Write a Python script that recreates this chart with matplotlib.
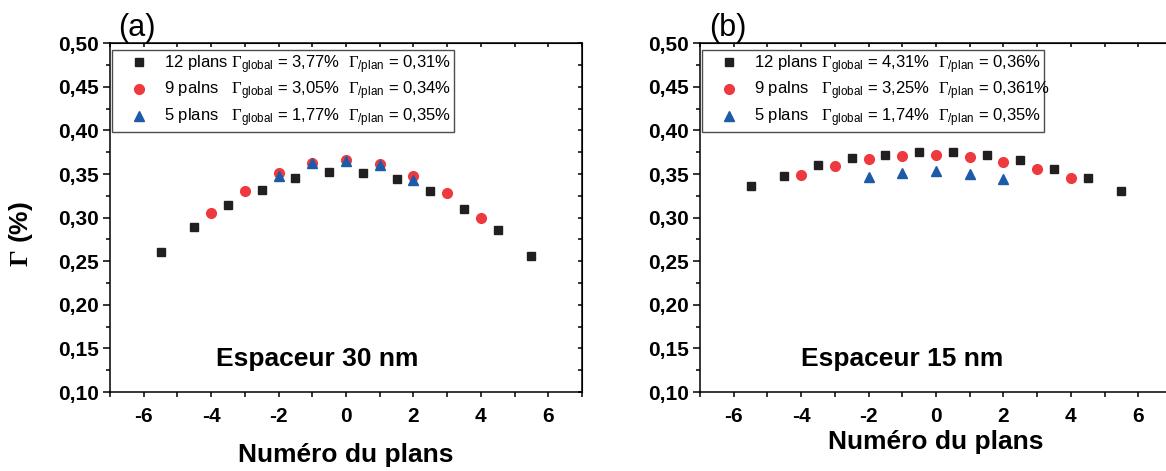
import matplotlib.pyplot as plt
import numpy as np
from matplotlib.ticker import MultipleLocator

plt.rcParams['font.family'] = 'Liberation Sans'
plt.rcParams['mathtext.fontset'] = 'custom'
plt.rcParams['mathtext.rm'] = 'Liberation Serif'
plt.rcParams['mathtext.it'] = 'Liberation Serif:italic'
plt.rcParams['mathtext.bf'] = 'Liberation Serif:bold'
plt.rcParams['mathtext.sf'] = 'Liberation Sans'

# plane numbers
x12 = [-5.5, -4.5, -3.5, -2.5, -1.5, -0.5, 0.5, 1.5, 2.5, 3.5, 4.5, 5.5]
x9 = [-4, -3, -2, -1, 0, 1, 2, 3, 4]
x5 = [-2, -1, 0, 1, 2]

# (a) spacer 30 nm
a12 = [0.261, 0.289, 0.314, 0.332, 0.345, 0.352, 0.351, 0.344, 0.330, 0.310, 0.286, 0.256]
a9 = [0.305, 0.331, 0.351, 0.363, 0.366, 0.362, 0.348, 0.328, 0.300]
a5 = [0.348, 0.363, 0.365, 0.360, 0.343]
# (b) spacer 15 nm
b12 = [0.336, 0.348, 0.360, 0.368, 0.372, 0.375, 0.375, 0.372, 0.366, 0.356, 0.345, 0.331]
b9 = [0.349, 0.359, 0.367, 0.371, 0.372, 0.370, 0.364, 0.356, 0.345]
b5 = [0.347, 0.351, 0.353, 0.350, 0.344]

labels_a = ['12 plans $\\Gamma_{\\mathsf{global}}$ = 3,77%  $\\Gamma_{\\mathsf{/plan}}$ = 0,31%',
            '9 palns   $\\Gamma_{\\mathsf{global}}$ = 3,05%  $\\Gamma_{\\mathsf{/plan}}$ = 0,34%',
            '5 plans   $\\Gamma_{\\mathsf{global}}$ = 1,77%  $\\Gamma_{\\mathsf{/plan}}$ = 0,35%']
labels_b = ['12 plans $\\Gamma_{\\mathsf{global}}$ = 4,31%  $\\Gamma_{\\mathsf{/plan}}$ = 0,36%',
            '9 palns   $\\Gamma_{\\mathsf{global}}$ = 3,25%  $\\Gamma_{\\mathsf{/plan}}$ = 0,361%',
            '5 plans   $\\Gamma_{\\mathsf{global}}$ = 1,74%  $\\Gamma_{\\mathsf{/plan}}$ = 0,35%']

x_ticks = [-6, -4, -2, 0, 2, 4, 6]
x_tick_labels = ['-6', '-4', '-2', '0', '2', '4', '6']
y_ticks = [0.10, 0.15, 0.20, 0.25, 0.30, 0.35, 0.40, 0.45, 0.50]
y_tick_labels = ['0,10', '0,15', '0,20', '0,25', '0,30', '0,35', '0,40', '0,45', '0,50']

fig = plt.figure(figsize=(11.66, 4.71), dpi=100)
ax1 = fig.add_axes([0.0943, 0.1677, 0.4048, 0.7404])
ax2 = fig.add_axes([0.6003, 0.1677, 0.4048, 0.7404])


def panel(ax, y12, y9, y5, labels, tag, spacer, tx, xlab_y):
    h1, = ax.plot(x12, y12, 's', color='#231F20', ms=6.2, zorder=3)
    h2, = ax.plot(x9, y9, 'o', color='#EE3A3F', ms=7, zorder=4)
    h3, = ax.plot(x5, y5, '^', color='#1D5BA8', ms=7.5, zorder=5)
    ax.set_xlim(-7, 7)
    ax.set_ylim(0.10, 0.50)
    ax.set_xticks(x_ticks, x_tick_labels, fontsize=15, fontweight='bold')
    ax.set_yticks(y_ticks, y_tick_labels, fontsize=15, fontweight='bold')
    ax.xaxis.set_minor_locator(MultipleLocator(1))
    ax.yaxis.set_minor_locator(MultipleLocator(0.025))
    ax.tick_params(axis='y', which='major', direction='out', length=5, width=1.1, pad=3)
    ax.tick_params(axis='y', which='minor', direction='out', length=3, width=1.1)
    ax.tick_params(axis='x', which='both', direction='out', length=3.5, width=1.1, pad=7)
    for s in ax.spines.values():
        s.set_linewidth(1.1)
    # inward ticks on top and right
    top = ax.secondary_xaxis('top')
    top.set_xticks(x_ticks, [])
    top.xaxis.set_minor_locator(MultipleLocator(1))
    top.tick_params(which='both', direction='in', length=3, width=1.1)
    right = ax.secondary_yaxis('right')
    right.set_yticks(y_ticks, [])
    right.yaxis.set_minor_locator(MultipleLocator(0.025))
    right.tick_params(which='both', direction='in', length=3, width=1.1)

    leg = ax.legend([h1, h2, h3], labels, loc='upper left',
                    bbox_to_anchor=(0.004, 0.749, 0.725, 0.232), mode='expand',
                    borderaxespad=0, fontsize=12, frameon=True, fancybox=False,
                    edgecolor='#231F20', handlelength=2.9, handletextpad=0.0,
                    borderpad=0.2, labelspacing=0.26)
    leg.get_frame().set_linewidth(1.0)

    ax.text(tx, 0.13, spacer, fontsize=19, fontweight='bold', ha='center', va='baseline')
    ax.text(0.058, 1.044, tag, transform=ax.transAxes, fontsize=22, ha='center', va='center')
    ax.set_xlabel('Numéro du plans', fontsize=19, fontweight='bold')
    ax.xaxis.set_label_coords(0.5, xlab_y)


panel(ax1, a12, a9, a5, labels_a, '(a)', 'Espaceur 30 nm', -0.85, -0.146)
panel(ax2, b12, b9, b5, labels_b, '(b)', 'Espaceur 15 nm', -1.0, -0.109)

ax1.set_ylabel('$\\mathbf{\\Gamma}$ (%)', fontsize=19, fontweight='bold')
ax1.yaxis.set_label_coords(-0.159, 0.453)

fig.savefig('out.png', dpi=100)
